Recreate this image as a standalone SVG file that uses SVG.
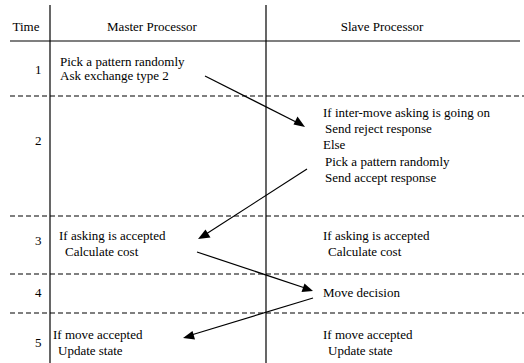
<svg xmlns="http://www.w3.org/2000/svg" width="524" height="363" viewBox="0 0 524 363">
<style>
text{font-family:"Liberation Serif",serif !important;font-size:13px;fill:#000}
.c{text-anchor:middle}
.grid{stroke:#000;stroke-width:1.2;fill:none}
.dash{stroke:#000;stroke-width:1.2;stroke-dasharray:5,3;fill:none}
.conn{stroke:#000;stroke-width:1.2;fill:none}
.ah{fill:#000;stroke:none}
</style>
<rect width="524" height="363" fill="#fff"/>
<g id="grid">
<line class="grid" x1="50" y1="5" x2="50" y2="363"/>
<line class="grid" x1="266" y1="5" x2="266" y2="363"/>
<line class="grid" x1="10" y1="41" x2="520" y2="41"/>
<line class="dash" x1="10" y1="96" x2="524" y2="96"/>
<line class="dash" x1="10" y1="216" x2="524" y2="216"/>
<line class="dash" x1="10" y1="274" x2="524" y2="274"/>
<line class="dash" x1="10" y1="313" x2="524" y2="313"/>
</g>
<g id="header">
<text x="26" y="31" class="c" font-family="Liberation Serif">Time</text>
<text x="152" y="31" class="c" font-family="Liberation Serif">Master Processor</text>
<text x="382" y="31" class="c" font-family="Liberation Serif">Slave Processor</text>
</g>
<g id="time">
<text x="35" y="74" font-family="Liberation Serif">1</text>
<text x="35" y="145" font-family="Liberation Serif">2</text>
<text x="35" y="245" font-family="Liberation Serif">3</text>
<text x="35" y="297" font-family="Liberation Serif">4</text>
<text x="35" y="347" font-family="Liberation Serif">5</text>
</g>
<g id="m1">
<text x="60" y="66" font-family="Liberation Serif">Pick a pattern randomly</text>
<text x="60" y="80" font-family="Liberation Serif">Ask exchange type 2</text>
</g>
<g id="s2">
<text x="323" y="117" font-family="Liberation Serif">If inter-move asking is going on</text>
<text x="325" y="133" font-family="Liberation Serif">Send reject response</text>
<text x="323" y="149" font-family="Liberation Serif">Else</text>
<text x="325" y="166" font-family="Liberation Serif">Pick a pattern randomly</text>
<text x="325" y="182" font-family="Liberation Serif">Send accept response</text>
</g>
<g id="m3">
<text x="59" y="240" font-family="Liberation Serif">If asking is accepted</text>
<text x="65" y="256" font-family="Liberation Serif">Calculate cost</text>
</g>
<g id="s3">
<text x="323" y="240" font-family="Liberation Serif">If asking is accepted</text>
<text x="328" y="256" font-family="Liberation Serif">Calculate cost</text>
</g>
<g id="s4">
<text x="323" y="297" font-family="Liberation Serif">Move decision</text>
</g>
<g id="m5">
<text x="53" y="339" font-family="Liberation Serif">If move accepted</text>
<text x="58" y="355" font-family="Liberation Serif">Update state</text>
</g>
<g id="s5">
<text x="323" y="339" font-family="Liberation Serif">If move accepted</text>
<text x="328" y="355" font-family="Liberation Serif">Update state</text>
</g>
<g id="connectors">
<line class="conn" x1="205" y1="76" x2="300" y2="124"/>
<path class="ah" d="M305,127 L293.5,124.5 L297.5,116.5 Z"/>
<line class="conn" x1="307" y1="169" x2="203" y2="236"/>
<path class="ah" d="M198,239 L205.5,229.5 L210.5,237.5 Z"/>
<line class="conn" x1="197" y1="252" x2="308" y2="289"/>
<path class="ah" d="M313,291 L301.5,292 L304.5,283.5 Z"/>
<line class="conn" x1="313" y1="298" x2="188" y2="336"/>
<path class="ah" d="M183,338 L192.5,331 L195,339.5 Z"/>
</g>
</svg>
